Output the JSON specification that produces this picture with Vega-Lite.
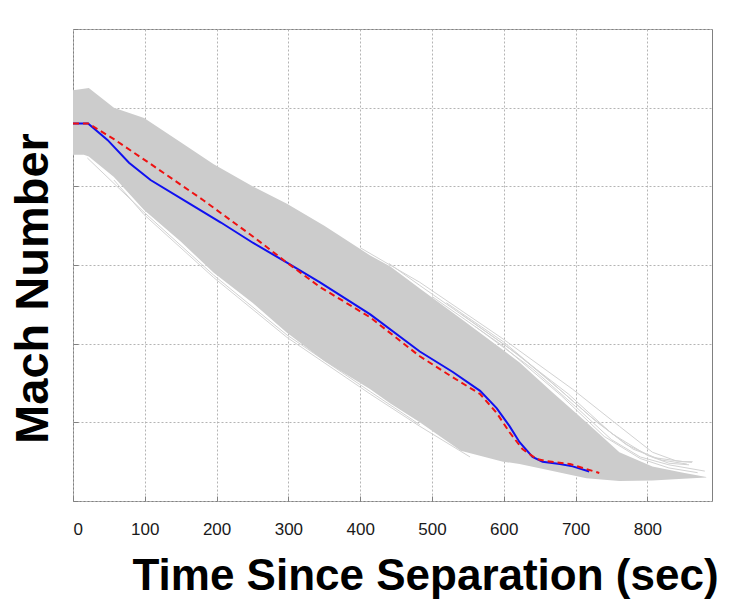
{
  "$schema": "https://vega.github.io/schema/vega-lite/v6.json",
  "width": 639,
  "height": 472,
  "autosize": "none",
  "padding": {"left": 73, "top": 29, "right": 18, "bottom": 98},
  "background": "white",
  "config": {
    "font": "Liberation Sans",
    "view": {"stroke": "#808080", "strokeWidth": 1}
  },
  "datasets": {
    "envelope": [
      {"t": 0, "hi": 26.1, "lo": 22.0},
      {"t": 15, "hi": 26.2, "lo": 22.0},
      {"t": 22, "hi": 26.25, "lo": 21.9},
      {"t": 57, "hi": 25.0, "lo": 20.6},
      {"t": 99, "hi": 24.35, "lo": 18.5},
      {"t": 150, "hi": 22.8, "lo": 16.5},
      {"t": 196, "hi": 21.4, "lo": 14.5},
      {"t": 250, "hi": 20.0, "lo": 12.6},
      {"t": 298, "hi": 18.9, "lo": 10.7},
      {"t": 350, "hi": 17.5, "lo": 8.9},
      {"t": 414, "hi": 15.6, "lo": 7.1},
      {"t": 442, "hi": 14.9, "lo": 6.2},
      {"t": 483, "hi": 13.5, "lo": 5.0},
      {"t": 540, "hi": 11.6, "lo": 3.2},
      {"t": 599, "hi": 9.6, "lo": 2.5},
      {"t": 622, "hi": 8.8, "lo": 2.35},
      {"t": 668, "hi": 6.9, "lo": 1.9},
      {"t": 715, "hi": 5.0, "lo": 1.45},
      {"t": 761, "hi": 3.1, "lo": 1.27},
      {"t": 807, "hi": 2.2, "lo": 1.3},
      {"t": 850, "hi": 1.8, "lo": 1.42},
      {"t": 882, "hi": 1.52, "lo": 1.5}
    ],
    "strays": [
      {"run": "a", "t": 400, "mach": 16.1},
      {"run": "a", "t": 483, "mach": 13.9},
      {"run": "a", "t": 599, "mach": 10.3},
      {"run": "a", "t": 696, "mach": 7.1},
      {"run": "a", "t": 761, "mach": 4.75},
      {"run": "a", "t": 807, "mach": 3.1},
      {"run": "a", "t": 840, "mach": 2.55},
      {"run": "a", "t": 862, "mach": 2.45},
      {"run": "b", "t": 440, "mach": 15.1},
      {"run": "b", "t": 483, "mach": 13.7},
      {"run": "b", "t": 599, "mach": 10.0},
      {"run": "b", "t": 690, "mach": 6.8},
      {"run": "b", "t": 750, "mach": 4.3},
      {"run": "b", "t": 800, "mach": 2.9},
      {"run": "b", "t": 830, "mach": 2.4},
      {"run": "b", "t": 858, "mach": 2.3},
      {"run": "c", "t": 500, "mach": 13.0},
      {"run": "c", "t": 599, "mach": 9.85},
      {"run": "c", "t": 680, "mach": 6.7},
      {"run": "c", "t": 740, "mach": 4.1},
      {"run": "c", "t": 790, "mach": 2.7},
      {"run": "c", "t": 830, "mach": 2.1},
      {"run": "c", "t": 870, "mach": 1.8},
      {"run": "f", "t": 520, "mach": 12.6},
      {"run": "f", "t": 600, "mach": 10.1},
      {"run": "f", "t": 660, "mach": 7.8},
      {"run": "f", "t": 720, "mach": 5.4},
      {"run": "f", "t": 770, "mach": 3.6},
      {"run": "f", "t": 810, "mach": 2.75},
      {"run": "f", "t": 850, "mach": 2.5},
      {"run": "f", "t": 863, "mach": 2.5},
      {"run": "g", "t": 540, "mach": 11.9},
      {"run": "g", "t": 620, "mach": 9.3},
      {"run": "g", "t": 680, "mach": 7.0},
      {"run": "g", "t": 730, "mach": 5.0},
      {"run": "g", "t": 780, "mach": 3.3},
      {"run": "g", "t": 820, "mach": 2.6},
      {"run": "g", "t": 855, "mach": 2.35},
      {"run": "h", "t": 560, "mach": 11.1},
      {"run": "h", "t": 640, "mach": 8.4},
      {"run": "h", "t": 700, "mach": 6.0},
      {"run": "h", "t": 750, "mach": 3.9},
      {"run": "h", "t": 790, "mach": 2.8},
      {"run": "h", "t": 830, "mach": 2.3},
      {"run": "h", "t": 880, "mach": 1.9},
      {"run": "d", "t": 57, "mach": 20.4},
      {"run": "d", "t": 99, "mach": 18.2},
      {"run": "d", "t": 196, "mach": 14.2},
      {"run": "d", "t": 298, "mach": 10.4},
      {"run": "d", "t": 414, "mach": 6.8},
      {"run": "d", "t": 483, "mach": 4.75},
      {"run": "d", "t": 553, "mach": 2.8},
      {"run": "e", "t": 20, "mach": 21.8},
      {"run": "e", "t": 99, "mach": 18.35},
      {"run": "e", "t": 196, "mach": 14.35},
      {"run": "e", "t": 298, "mach": 10.55},
      {"run": "e", "t": 414, "mach": 6.95},
      {"run": "e", "t": 483, "mach": 4.85}
    ],
    "nominal": [
      {"t": 0, "mach": 24.0}, {"t": 21, "mach": 24.0}, {"t": 48, "mach": 22.95},
      {"t": 78, "mach": 21.5}, {"t": 108, "mach": 20.4}, {"t": 160, "mach": 18.96},
      {"t": 206, "mach": 17.7}, {"t": 251, "mach": 16.4}, {"t": 298, "mach": 15.15},
      {"t": 344, "mach": 13.9}, {"t": 414, "mach": 11.86}, {"t": 483, "mach": 9.5},
      {"t": 529, "mach": 8.2}, {"t": 567, "mach": 7.0}, {"t": 590, "mach": 5.9},
      {"t": 608, "mach": 4.76}, {"t": 622, "mach": 3.74}, {"t": 640, "mach": 2.8},
      {"t": 654, "mach": 2.5}, {"t": 678, "mach": 2.35}, {"t": 696, "mach": 2.2},
      {"t": 719, "mach": 1.88}
    ],
    "reconstructed": [
      {"t": 0, "mach": 24.0}, {"t": 21, "mach": 24.0}, {"t": 57, "mach": 23.0},
      {"t": 112, "mach": 21.3}, {"t": 182, "mach": 19.1}, {"t": 251, "mach": 16.8},
      {"t": 298, "mach": 15.15}, {"t": 344, "mach": 13.6}, {"t": 414, "mach": 11.67},
      {"t": 483, "mach": 9.2}, {"t": 529, "mach": 7.86}, {"t": 567, "mach": 6.8},
      {"t": 590, "mach": 5.6}, {"t": 608, "mach": 4.37}, {"t": 626, "mach": 3.3},
      {"t": 646, "mach": 2.66}, {"t": 660, "mach": 2.54}, {"t": 692, "mach": 2.35},
      {"t": 733, "mach": 1.78}
    ]
  },
  "layer": [
    {
      "data": {"name": "strays"},
      "mark": {"type": "line", "color": "#d2d2d2", "strokeWidth": 1},
      "encoding": {
        "x": {
          "field": "t", "type": "quantitative",
          "scale": {"domain": [0, 890], "nice": false, "zero": false},
          "axis": {
            "values": [0, 100, 200, 300, 400, 500, 600, 700, 800],
            "grid": true, "gridColor": "#b4b4b4", "gridDash": [2, 2], "gridWidth": 1,
            "domain": false,
            "tickSize": -5, "tickColor": "#808080",
            "labelFont": "Liberation Sans", "labelFontSize": 17, "labelColor": "#1a1a1a",
            "labelPadding": 25,
            "title": "Time Since Separation (sec)",
            "titleFont": "Liberation Sans", "titleFontSize": 44, "titleFontWeight": "bold",
            "titleColor": "#000000",
            "titleX": 352, "titleY": 88, "titleAlign": "center", "titleBaseline": "alphabetic"
          }
        },
        "y": {
          "field": "mach", "type": "quantitative",
          "scale": {"domain": [0, 30], "nice": false},
          "axis": {
            "values": [0, 5, 10, 15, 20, 25, 30],
            "grid": true, "gridColor": "#b4b4b4", "gridDash": [2, 2], "gridWidth": 1,
            "domain": false, "labels": false,
            "tickSize": -5, "tickColor": "#808080",
            "title": "Mach Number",
            "titleFont": "Liberation Sans", "titleFontSize": 47, "titleFontWeight": "bold",
            "titleColor": "#000000", "titleAngle": 270,
            "titleX": -40, "titleY": 259, "titleAlign": "center", "titleBaseline": "middle"
          }
        },
        "detail": {"field": "run"}
      }
    },
    {
      "data": {"name": "envelope"},
      "mark": {"type": "area", "color": "#cccccc", "opacity": 1},
      "encoding": {
        "x": {"field": "t", "type": "quantitative"},
        "y": {"field": "hi", "type": "quantitative"},
        "y2": {"field": "lo"}
      }
    },
    {
      "data": {"name": "nominal"},
      "mark": {"type": "line", "color": "#1010f0", "strokeWidth": 2},
      "encoding": {
        "x": {"field": "t", "type": "quantitative"},
        "y": {"field": "mach", "type": "quantitative"}
      }
    },
    {
      "data": {"name": "reconstructed"},
      "mark": {"type": "line", "color": "#ee1111", "strokeWidth": 2, "strokeDash": [6, 4]},
      "encoding": {
        "x": {"field": "t", "type": "quantitative"},
        "y": {"field": "mach", "type": "quantitative"}
      }
    }
  ]
}
